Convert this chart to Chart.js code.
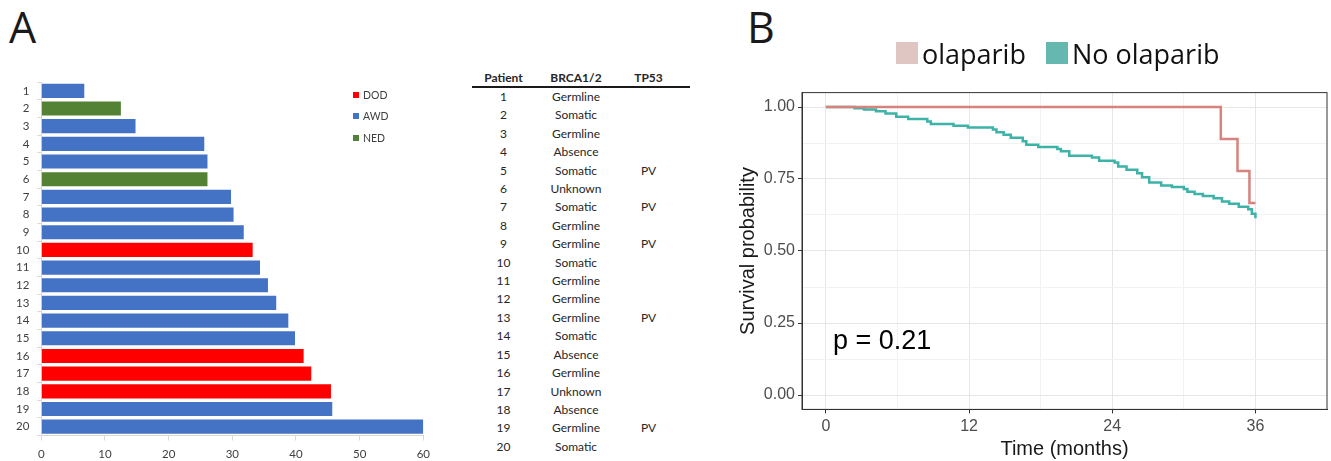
<!DOCTYPE html>
<html>
<head>
<meta charset="utf-8">
<script src="https://cdn.jsdelivr.net/npm/chart.js@4.4.1/dist/chart.umd.min.js"></script>
<style>
  body { margin: 0; background: #fff; width: 1331px; height: 461px; position: relative; overflow: hidden; font-family: Lato, sans-serif; }
  .letter { position: absolute; font-family: 'Open Sans', sans-serif; font-size: 43px; line-height: 1; color: #1a1a1a; }
  #wrapA { position: absolute; left: 0; top: 0; width: 440px; height: 461px; }
  #wrapB { position: absolute; left: 735px; top: 0; width: 596px; height: 461px; }
  #legendA { position: absolute; left: 353px; top: 84px; font-size: 10.5px; color: #404040; }
  #legendA div { height: 21.5px; display: flex; align-items: center; }
  #legendA span.box { display: inline-block; width: 6px; height: 6px; margin-right: 4px; }
  #legendB { position: absolute; left: 896px; top: 36px; font-family: 'Open Sans', sans-serif; font-size: 27px; color: #111; display: flex; align-items: center; height: 34px; }
  #legendB span.box { display: inline-block; width: 22px; height: 22px; margin-right: 4px; }
  #legendB span.item { display: flex; align-items: center; margin-right: 20px; }
  #tbl { position: absolute; left: 472px; top: 69px; border-collapse: collapse; font-size: 12px; color: #262626; }
  #tbl td, #tbl th { padding: 0; text-align: center; height: 18.4px; line-height: 18.4px; }
  #tbl th { height: 17px; line-height: 17px; border-bottom: 2px solid #1a1a1a; font-weight: bold; }
</style>
</head>
<body>
<div class="letter" style="left:9px; top:5px;">A</div>
<div class="letter" style="left:747px; top:5px;">B</div>

<div id="wrapA"><canvas id="survBarChart"></canvas></div>
<div id="legendA"></div>
<table id="tbl"></table>
<div id="wrapB"><canvas id="kmChart"></canvas></div>
<div id="legendB"></div>

<script>
// Panel A: survival time per patient (months)
var patients = ['1', '2', '3', '4', '5', '6', '7', '8', '9', '10',
                '11', '12', '13', '14', '15', '16', '17', '18', '19', '20'];
var months = [6.75, 12.5, 14.8, 25.6, 26.1, 26.1, 29.8, 30.2, 31.8, 33.2,
              34.35, 35.6, 36.9, 38.8, 39.85, 41.2, 42.4, 45.5, 45.7, 60];
var patientStatus = ['AWD', 'NED', 'AWD', 'AWD', 'AWD', 'NED', 'AWD', 'AWD', 'AWD', 'DOD',
                     'AWD', 'AWD', 'AWD', 'AWD', 'AWD', 'DOD', 'DOD', 'DOD', 'AWD', 'AWD'];
var statusNames = ['DOD', 'AWD', 'NED'];
var statusColors = ['#ff0000', '#4472c4', '#548235'];

// Table
var tableHeader = ['Patient', 'BRCA1/2', 'TP53'];
var brca = ['Germline', 'Somatic', 'Germline', 'Absence', 'Somatic', 'Unknown', 'Somatic', 'Germline', 'Germline', 'Somatic',
            'Germline', 'Germline', 'Germline', 'Somatic', 'Absence', 'Germline', 'Unknown', 'Absence', 'Germline', 'Somatic'];
var tp53 = ['', '', '', '', 'PV', '', 'PV', '', 'PV', '',
            '', '', 'PV', '', '', '', '', '', 'PV', ''];

// Panel B: Kaplan-Meier steps (time in months, survival probability)
var olaTime = [0, 33.1, 34.5, 35.5, 36.0];
var olaSurv = [1, 0.889, 0.778, 0.667, 0.667];
var noOlaTime = [0, 2.4, 3.2, 4.2, 5.0, 5.9, 6.9, 8.5, 8.8, 10.7,
                 11.9, 14.0, 14.3, 14.9, 15.5, 16.5, 16.8, 17.8, 19.4, 19.7,
                 20.4, 22.3, 22.9, 24.2, 24.5, 25.2, 26.1, 26.5, 27.1, 28.1,
                 29.0, 30.0, 30.3, 30.9, 31.6, 32.5, 33.2, 33.8, 34.6, 35.4,
                 35.7, 36.0];
var noOlaSurv = [1, 0.996, 0.991, 0.985, 0.977, 0.966, 0.958, 0.950, 0.941, 0.935,
                 0.929, 0.922, 0.912, 0.904, 0.893, 0.881, 0.869, 0.861, 0.854, 0.846,
                 0.831, 0.825, 0.813, 0.807, 0.793, 0.782, 0.770, 0.756, 0.738, 0.727,
                 0.722, 0.715, 0.706, 0.698, 0.691, 0.683, 0.672, 0.664, 0.654, 0.645,
                 0.629, 0.614];
var xMajor = [0, 12, 24, 36];
var xMinor = [6, 18, 30];
var yMajor = [0, 0.25, 0.5, 0.75, 1];
var yMinor = [0.125, 0.375, 0.625, 0.875];
var pValueText = 'p = 0.21';

// ---- Panel A bars ----
var barDatasets = statusNames.map(function (name, k) {
    return {
        label: name,
        data: months.map(function (m, i) { return patientStatus[i] === name ? m : null; }),
        backgroundColor: statusColors[k],
        barPercentage: 0.8,
        categoryPercentage: 1
    };
});

var tickFontA = { family: 'Lato', size: 11.5 };

var barChart = new Chart(document.getElementById('survBarChart'), {
    type: 'bar',
    data: { labels: patients, datasets: barDatasets },
    options: {
        indexAxis: 'y',
        animation: false,
        responsive: true,
        maintainAspectRatio: false,
        layout: { padding: { top: 82, right: 16.7, bottom: 0, left: 0 } },
        plugins: { legend: { display: false }, tooltip: { enabled: false } },
        scales: {
            x: {
                stacked: true, min: 0, max: 60,
                ticks: { stepSize: 10, font: tickFontA, color: '#404040', padding: 7 },
                grid: { drawOnChartArea: false, tickLength: 5, color: '#d9d9d9' },
                border: { color: '#d9d9d9' },
                afterFit: function (scale) { scale.height = 25.5; }
            },
            y: {
                stacked: true,
                ticks: { font: tickFontA, color: '#404040', padding: 8 },
                grid: { drawOnChartArea: false, tickLength: 4, color: '#d9d9d9' },
                border: { color: '#d9d9d9' },
                afterFit: function (scale) { scale.width = 41.3; }
            }
        }
    }
});

// legend A (html)
var legendA = document.getElementById('legendA');
barDatasets.forEach(function (ds) {
    var row = document.createElement('div');
    row.innerHTML = '<span class="box" style="background:' + ds.backgroundColor + '"></span>' + ds.label;
    legendA.appendChild(row);
});

// table
var tbl = document.getElementById('tbl');
var head = '<tr>' + tableHeader.map(function (h, i) {
    var st = i === 2 ? 'padding-right:10px;width:63px' : 'width:' + [63, 82][i] + 'px';
    return '<th style="' + st + '">' + h + '</th>';
}).join('') + '</tr>';
var body = patients.map(function (p, i) {
    return '<tr><td>' + p + '</td><td>' + brca[i] + '</td><td style="padding-right:10px">' + tp53[i] + '</td></tr>';
}).join('');
tbl.innerHTML = head + body;

// ---- Panel B Kaplan-Meier ----
function toPoints(xs, ys) {
    return xs.map(function (x, i) { return { x: x, y: ys[i] }; });
}

var panelBorder = {
    id: 'panelBorder',
    afterDraw: function (chart) {
        var a = chart.chartArea, ctx = chart.ctx;
        ctx.save();
        ctx.strokeStyle = '#333333';
        ctx.lineWidth = 1;
        ctx.strokeRect(a.left, a.top, a.right - a.left, a.bottom - a.top);
        ctx.restore();
    }
};

var pLabel = {
    id: 'pLabel',
    afterDatasetsDraw: function (chart) {
        var ctx = chart.ctx;
        ctx.save();
        ctx.font = '27px "Liberation Sans", Arial, sans-serif';
        ctx.fillStyle = '#000';
        ctx.textBaseline = 'middle';
        ctx.fillText(pValueText, chart.scales.x.getPixelForValue(0.6), chart.scales.y.getPixelForValue(0.185));
        ctx.restore();
    }
};

function isMajor(list, v) {
    return list.some(function (m) { return Math.abs(m - v) < 1e-9; });
}

var kmChart = new Chart(document.getElementById('kmChart'), {
    type: 'line',
    data: {
        datasets: [{
            label: 'olaparib',
            data: toPoints(olaTime, olaSurv),
            borderColor: '#d6837e',
            backgroundColor: '#dfc6c2',
            stepped: 'before',
            pointRadius: 0,
            borderWidth: 2.5,
            fill: false
        }, {
            label: 'No olaparib',
            data: toPoints(noOlaTime, noOlaSurv),
            borderColor: '#3db2a7',
            backgroundColor: '#64b8b0',
            stepped: 'before',
            pointRadius: 0,
            borderWidth: 2.5,
            fill: false
        }]
    },
    options: {
        animation: false,
        responsive: true,
        maintainAspectRatio: false,
        layout: { padding: { top: 92.6, right: 4, bottom: 0, left: 0 } },
        plugins: { tooltip: { enabled: false }, legend: { display: false } },
        scales: {
            x: {
                type: 'linear', min: -2, max: 42,
                afterBuildTicks: function (axis) {
                    axis.ticks = xMajor.concat(xMinor).sort(function (a, b) { return a - b; })
                        .map(function (v) { return { value: v }; });
                },
                ticks: {
                    font: { family: 'Liberation Sans', size: 16 },
                    color: '#4d4d4d',
                    padding: 4,
                    autoSkip: false,
                    maxRotation: 0,
                    callback: function (v) { return isMajor(xMajor, v) ? String(v) : ''; }
                },
                grid: {
                    tickLength: 4,
                    color: function (c) { return c.tick && isMajor(xMajor, c.tick.value) ? '#e6e6e6' : '#f2f2f2'; },
                    tickColor: function (c) { return c.tick && isMajor(xMajor, c.tick.value) ? '#333333' : 'rgba(0,0,0,0)'; }
                },
                border: { color: '#333333' },
                title: {
                    display: true, text: 'Time (months)', color: '#1a1a1a',
                    font: { family: 'Liberation Sans', size: 20 }, padding: { top: 0, bottom: 0 }
                },
                afterFit: function (scale) { scale.height = 51.6; }
            },
            y: {
                min: -0.05, max: 1.05,
                afterBuildTicks: function (axis) {
                    axis.ticks = yMajor.concat(yMinor).sort(function (a, b) { return a - b; })
                        .map(function (v) { return { value: v }; });
                },
                ticks: {
                    font: { family: 'Liberation Sans', size: 16 },
                    color: '#4d4d4d',
                    padding: 3,
                    autoSkip: false,
                    callback: function (v) { return isMajor(yMajor, v) ? v.toFixed(2) : ''; }
                },
                grid: {
                    tickLength: 4,
                    color: function (c) { return c.tick && isMajor(yMajor, c.tick.value) ? '#e6e6e6' : '#f2f2f2'; },
                    tickColor: function (c) { return c.tick && isMajor(yMajor, c.tick.value) ? '#333333' : 'rgba(0,0,0,0)'; }
                },
                border: { color: '#333333' },
                title: {
                    display: true, text: 'Survival probability', color: '#1a1a1a',
                    font: { family: 'Liberation Sans', size: 20 }, padding: { top: 1, bottom: 0 }
                },
                afterFit: function (scale) { scale.width = 67; }
            }
        }
    },
    plugins: [panelBorder, pLabel]
});

// legend B (html, built from the chart datasets)
var legendB = document.getElementById('legendB');
kmChart.data.datasets.forEach(function (ds) {
    var item = document.createElement('span');
    item.className = 'item';
    item.innerHTML = '<span class="box" style="background:' + ds.backgroundColor + '"></span>' + ds.label;
    legendB.appendChild(item);
});
</script>
</body>
</html>
